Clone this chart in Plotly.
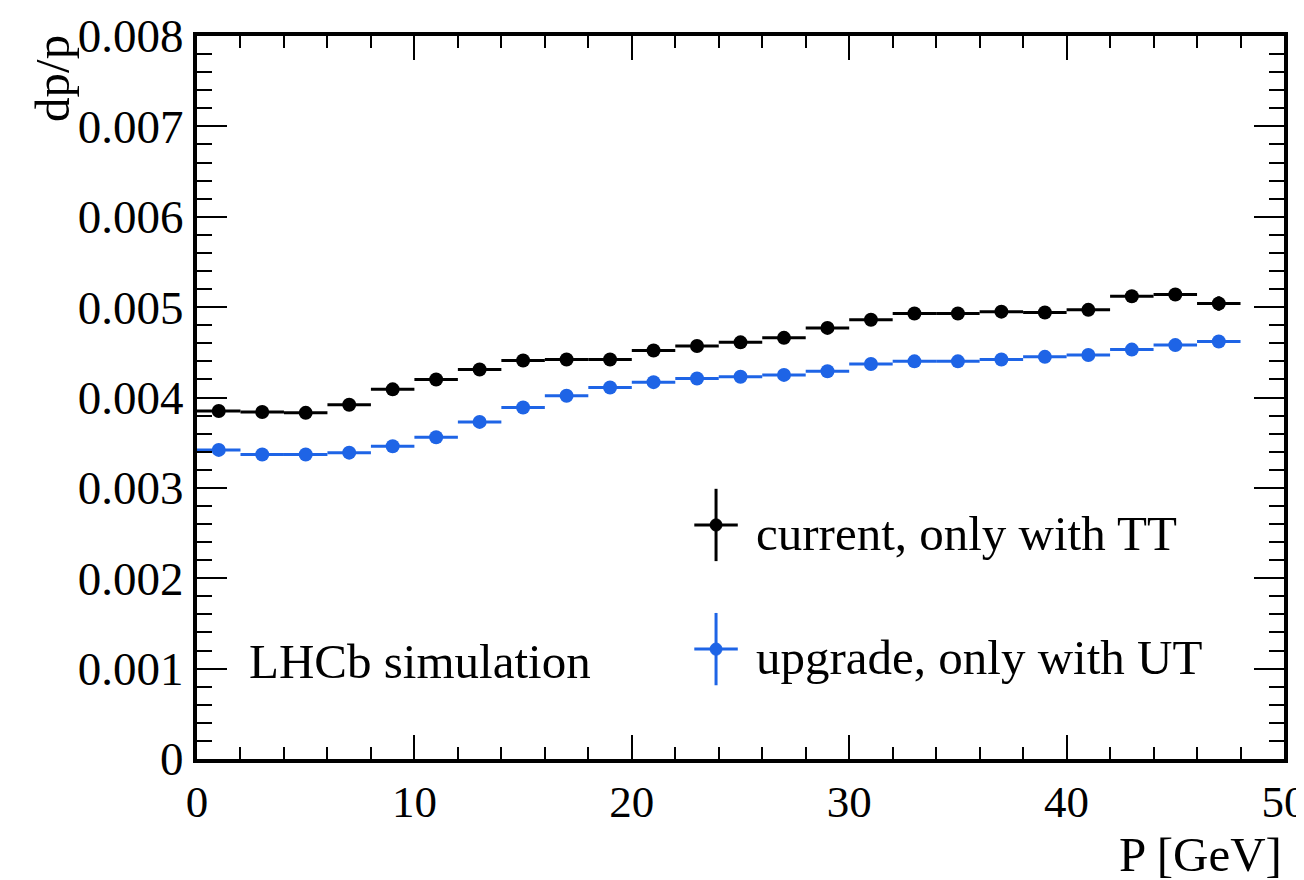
import plotly.graph_objects as go

p_centers = [1, 3, 5, 7, 9, 11, 13, 15, 17, 19, 21, 23, 25, 27, 29, 31, 33, 35, 37, 39, 41, 43, 45, 47]
bin_half = [1] * 24
current_tt = [0.00385, 0.00384, 0.00383, 0.00392, 0.00409, 0.00420, 0.00431, 0.00441, 0.00442, 0.00442,
              0.00452, 0.00457, 0.00461, 0.00466, 0.00477, 0.00486, 0.00493, 0.00493, 0.00495, 0.00494,
              0.00497, 0.00512, 0.00514, 0.00504]
current_err = [0.00003, 0.00003, 0.00003, 0.00003, 0.00003, 0.00003, 0.00003, 0.00003, 0.00003, 0.00003,
               0.00003, 0.00003, 0.00003, 0.00003, 0.00003, 0.00003, 0.00004, 0.00004, 0.00004, 0.00004,
               0.00004, 0.00005, 0.00006, 0.00008]
upgrade_ut = [0.00342, 0.00337, 0.00337, 0.00339, 0.00346, 0.00356, 0.00373, 0.00389, 0.00402, 0.00411,
              0.00417, 0.00421, 0.00423, 0.00425, 0.00429, 0.00437, 0.00440, 0.00440, 0.00442, 0.00445,
              0.00447, 0.00453, 0.00458, 0.00462]
upgrade_err = [0.00002] * 24
y_tickvals = [0, 0.001, 0.002, 0.003, 0.004, 0.005, 0.006, 0.007, 0.008]
y_ticktext = ["0", "0.001", "0.002", "0.003", "0.004", "0.005", "0.006", "0.007", "0.008"]

BLUE = "#1e64e6"
FONT = "Liberation Serif, Times New Roman, serif"

fig = go.Figure()
for y, err, col, name in [(current_tt, current_err, "black", "current, only with TT"),
                          (upgrade_ut, upgrade_err, BLUE, "upgrade, only with UT")]:
    fig.add_trace(go.Scatter(
        x=p_centers, y=y, mode="markers", name=name, showlegend=False,
        marker=dict(color=col, size=14, symbol="circle"),
        error_x=dict(type="data", array=bin_half, color=col, thickness=3, width=0),
        error_y=dict(type="data", array=err, color=col, thickness=3, width=0),
    ))

axis_common = dict(
    showgrid=False, zeroline=False, showline=True, linecolor="black", linewidth=4,
    mirror="allticks", ticks="inside", tickcolor="black", tickwidth=2, automargin=False,
)
fig.update_xaxes(range=[0, 50], dtick=10, tick0=0, ticklen=24,
                 tickfont=dict(family=FONT, size=45, color="black"),
                 minor=dict(dtick=2, ticks="inside", ticklen=12, tickcolor="black", tickwidth=2),
                 **axis_common)
fig.update_yaxes(range=[0, 0.008], ticklen=30, tickvals=y_tickvals, ticktext=y_ticktext,
                 tickfont=dict(family=FONT, size=47, color="black"),
                 minor=dict(dtick=0.0002, ticks="inside", ticklen=15, tickcolor="black", tickwidth=2),
                 **axis_common)

# Legend (manual)
leg = [(0.3237, "black", "current, only with TT"), (0.152, BLUE, "upgrade, only with UT")]
x0 = 0.4775
for yp, col, txt in leg:
    fig.add_shape(type="line", xref="paper", yref="paper", x0=x0, x1=x0, y0=yp - 0.05, y1=yp + 0.05,
                  line=dict(color=col, width=3))
    fig.add_shape(type="line", xref="paper", yref="paper", x0=x0 - 0.02, x1=x0 + 0.02, y0=yp, y1=yp,
                  line=dict(color=col, width=3))
    fig.add_shape(type="circle", xref="paper", yref="paper", x0=x0 - 0.0055, x1=x0 + 0.0055,
                  y0=yp - 0.0085, y1=yp + 0.0085, fillcolor=col, line=dict(color=col, width=1))
    fig.add_annotation(xref="paper", yref="paper", x=0.512, y=yp - 0.012, xanchor="left", yanchor="middle",
                       text=txt, showarrow=False, font=dict(family=FONT, size=49, color="black"))

fig.add_annotation(xref="paper", yref="paper", x=0.046, y=0.135, xanchor="left", yanchor="middle",
                   text="LHCb simulation", showarrow=False, font=dict(family=FONT, size=49, color="black"))
fig.add_annotation(xref="paper", yref="paper", x=1.0, y=-0.132, xanchor="right", yanchor="middle",
                   text="P [GeV]", showarrow=False, font=dict(family=FONT, size=49, color="black"))
fig.add_annotation(xref="paper", yref="paper", x=-0.1325, y=0.942, xanchor="center", yanchor="middle",
                   text="dp/p", textangle=-90, showarrow=False, font=dict(family=FONT, size=49, color="black"))

fig.update_layout(
    width=1304, height=880, plot_bgcolor="white", paper_bgcolor="white",
    margin=dict(l=189, r=28, t=28, b=129),
    font=dict(family=FONT, color="black"),
)
fig.write_html("out.html")
